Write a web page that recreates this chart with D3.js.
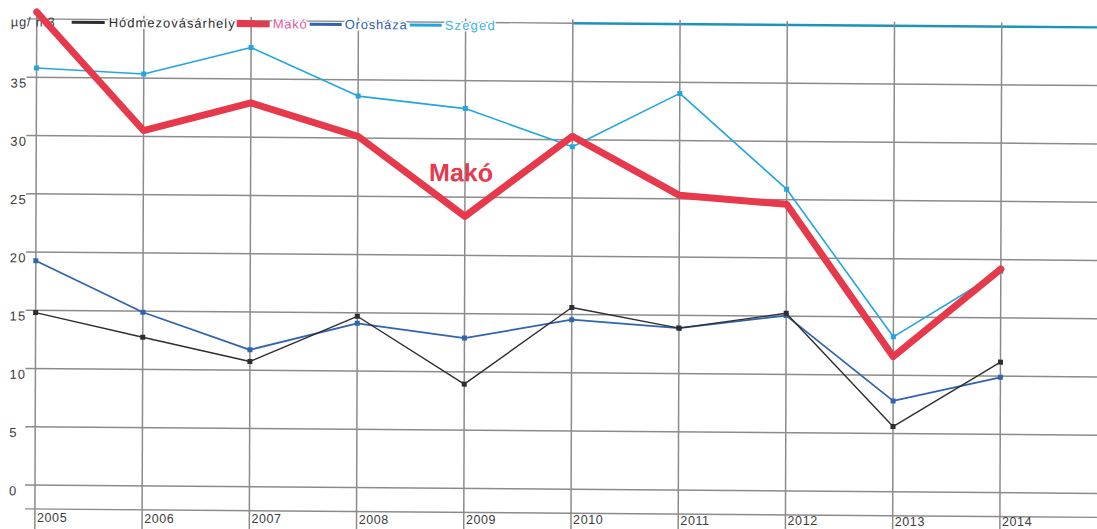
<!DOCTYPE html>
<html>
<head>
<meta charset="utf-8">
<script src="https://cdn.jsdelivr.net/npm/d3@7"></script>
<style>
  html, body { margin: 0; padding: 0; background: #fff; }
  svg { display: block; }
  text { font-family: "Liberation Sans", Arial, sans-serif; }
</style>
</head>
<body>
<svg id="chart" width="1097" height="529"></svg>
<script>
// Annual mean concentrations (µg/m3), 2005–2014
const years = [2005, 2006, 2007, 2008, 2009, 2010, 2011, 2012, 2013, 2014];
const hodmezovasarhely = [14.8, 12.75, 10.75, 14.7, 8.95, 15.6, 13.9, 15.25, 5.6, 11.2];
const mako = [40.6, 30.5, 32.95, 30.15, 23.35, 30.3, 25.3, 24.6, 11.6, 19.2];
const oroshaza = [19.25, 14.9, 11.75, 14.1, 12.9, 14.55, 13.9, 15.05, 7.8, 9.9];
const szeged = [35.8, 35.35, 37.7, 33.6, 32.6, 29.4, 34.05, 25.9, 13.3, 19.0];
const yTicks = [0, 5, 10, 15, 20, 25, 30, 35];
const unitLabel = "µg/ m3";

const series = [
  { name: "Hódmezovásárhely", values: hodmezovasarhely, color: "#2e2e2e", text: "#2a2a2a", width: 1.4, marker: 5 },
  { name: "Makó", values: mako, color: "#e6394c", text: "#e2589e", width: 7, marker: 0 },
  { name: "Orosháza", values: oroshaza, color: "#3064ae", text: "#2d5ea9", width: 1.8, marker: 5 },
  { name: "Szeged", values: szeged, color: "#22a6df", text: "#3cb2e6", width: 1.6, marker: 5 }
];

const W = 1097, H = 529;
const svg = d3.select("#chart");
svg.append("rect").attr("width", W).attr("height", H).attr("fill", "#fff");

// whole sheet sits slightly skewed
const skewY = 0.0079;
const g = svg.append("g").attr("transform", `matrix(1,${skewY},-0.0037,1,1.79,-0.28)`);

const x = d3.scaleLinear().domain([2005, 2014]).range([35, 1000]);
const y = d3.scaleLinear().domain([0, 40]).range([485, 19]);

const gridColor = "#8b8b8b";
const gridLeft = 25, gridRight = W + 10;

// horizontal grid
g.append("g").selectAll("line").data(yTicks).join("line")
  .attr("x1", gridLeft).attr("x2", gridRight)
  .attr("y1", d => y(d)).attr("y2", d => y(d))
  .attr("stroke", gridColor).attr("stroke-width", 1.5);

// frame line below zero
g.append("line")
  .attr("x1", gridLeft).attr("x2", gridRight)
  .attr("y1", y(0) + 24).attr("y2", y(0) + 24)
  .attr("stroke", gridColor).attr("stroke-width", 1.4);

// top line: grey on the left, teal from 2010 on
g.append("line")
  .attr("x1", gridLeft).attr("x2", x(2010))
  .attr("y1", y(40)).attr("y2", y(40))
  .attr("stroke", gridColor).attr("stroke-width", 1.3);
g.append("line")
  .attr("x1", x(2010)).attr("x2", gridRight)
  .attr("y1", y(40)).attr("y2", y(40))
  .attr("stroke", "#1d93b6").attr("stroke-width", 2.4);

// vertical grid
g.append("g").selectAll("line").data(years).join("line")
  .attr("x1", d => x(d)).attr("x2", d => x(d))
  .attr("y1", y(40) - 4).attr("y2", H + 10)
  .attr("stroke", gridColor).attr("stroke-width", 1.5);

// y tick labels
g.append("g").selectAll("text").data(yTicks).join("text")
  .attr("x", 9).attr("y", d => y(d) + 7)
  .attr("dominant-baseline", "middle")
  .attr("font-size", 13).attr("letter-spacing", 1.2)
  .attr("fill", "#3c3c3c")
  .text(d => d);

// x tick labels (kept level enough to stay on the sheet)
svg.append("g").selectAll("text").data(years).join("text")
  .attr("x", d => x(d) + 2)
  .attr("y", d => y(0) + 34 + (x(d) - 35) * 0.004)
  .attr("dominant-baseline", "middle")
  .attr("font-size", 12.5).attr("letter-spacing", 0.6)
  .attr("fill", "#3c3c3c")
  .text(d => d);

// legend row
const legendY = 22;
const legendItems = [
  { s: series[0], x0: 70, x1: 103, tx: 107, tw: 126 },
  { s: series[1], x0: 235, x1: 268, tx: 271, tw: 34 },
  { s: series[2], x0: 308, x1: 340, tx: 343, tw: 62 },
  { s: series[3], x0: 408, x1: 440, tx: 443, tw: 50 }
];
g.append("text")
  .attr("x", 9).attr("y", legendY + 1)
  .attr("dominant-baseline", "middle")
  .attr("font-size", 13).attr("letter-spacing", 0.8)
  .attr("fill", "#3c3c3c")
  .text(unitLabel);
const lg = g.append("g");
lg.selectAll("line").data(legendItems).join("line")
  .attr("x1", d => d.x0).attr("x2", d => d.x1)
  .attr("y1", legendY).attr("y2", legendY)
  .attr("stroke", d => d.s.color)
  .attr("stroke-width", d => d.s.width > 3 ? 7 : 3);
lg.selectAll("text").data(legendItems).join("text")
  .attr("x", d => d.tx).attr("y", legendY + 1)
  .attr("dominant-baseline", "middle")
  .attr("font-size", 13)
  .attr("textLength", d => d.tw).attr("lengthAdjust", "spacing")
  .attr("fill", d => d.s.text)
  .attr("stroke", "#fff").attr("stroke-width", 3).attr("paint-order", "stroke")
  .text(d => d.s.name);

// series lines, thin ones first, Makó on top
const line = d3.line().x((d, i) => x(years[i])).y(d => y(d));
const drawOrder = [series[3], series[2], series[0], series[1]];
drawOrder.forEach(s => {
  g.append("path")
    .datum(s.values)
    .attr("d", line)
    .attr("fill", "none")
    .attr("stroke", s.color)
    .attr("stroke-width", s.width)
    .attr("stroke-linejoin", "round")
    .attr("stroke-linecap", "round");
  if (s.marker > 0) {
    g.append("g").selectAll("rect").data(s.values).join("rect")
      .attr("x", (d, i) => x(years[i]) - s.marker / 2)
      .attr("y", d => y(d) - s.marker / 2)
      .attr("width", s.marker).attr("height", s.marker)
      .attr("fill", s.color);
  }
});

// in-plot label for Makó
g.append("text")
  .attr("x", 428).attr("y", 178)
  .attr("font-size", 25).attr("font-weight", "bold")
  .attr("fill", "#e6394c")
  .text("Makó");
</script>
</body>
</html>
